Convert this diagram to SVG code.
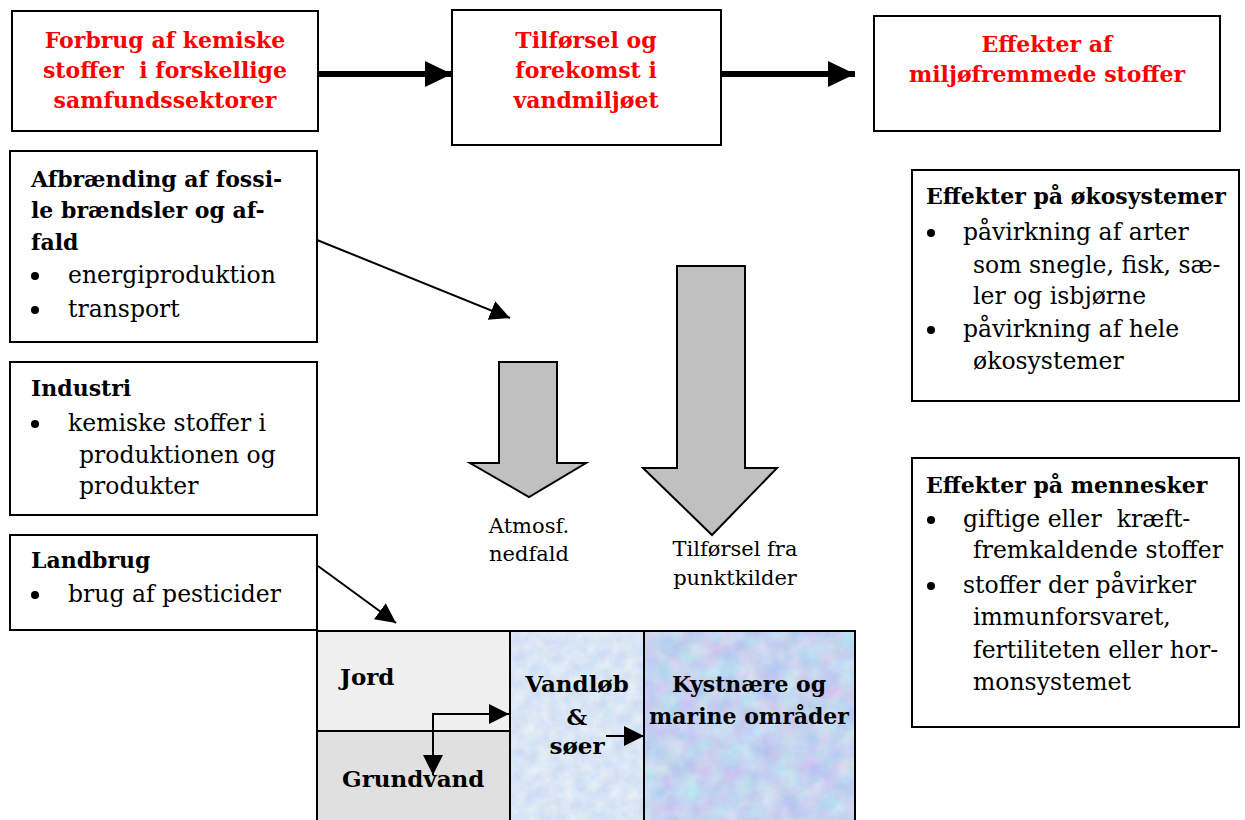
<svg xmlns="http://www.w3.org/2000/svg" width="1245" height="820" viewBox="0 0 1245 820">
<style>
.box{fill:#fff;stroke:#000;stroke-width:2}
.t{font-family:"DejaVu Serif","Liberation Serif",serif;font-size:23.5px;fill:#000}
.b{font-family:"DejaVu Serif","Liberation Serif",serif;font-size:22px;font-weight:bold;fill:#000}
.r{font-family:"DejaVu Serif","Liberation Serif",serif;font-size:22px;font-weight:bold;fill:#ff0000;text-anchor:middle}
.lbl{font-family:"DejaVu Serif","Liberation Serif",serif;font-size:21px;fill:#000;text-anchor:middle}
.w{font-family:"DejaVu Serif","Liberation Serif",serif;font-size:23px;font-weight:bold;fill:#000}
.k{font-size:22px}
.c{text-anchor:middle}
.pre{white-space:pre}
.thick{stroke:#000;stroke-width:6;fill:none}
.thin{stroke:#000;stroke-width:2;fill:none}
.blk{fill:#c0c0c0;stroke:#000;stroke-width:2}
</style>
<defs>
<marker id="bigHead" markerUnits="userSpaceOnUse" markerWidth="28" markerHeight="28" refX="27" refY="13" orient="auto" viewBox="0 0 28 28">
<path d="M0,0 L27,13 L0,26 z" fill="#000"/>
</marker>
<marker id="smallHead" markerUnits="userSpaceOnUse" markerWidth="22" markerHeight="22" refX="20" refY="10" orient="auto" viewBox="0 0 22 22">
<path d="M0,0 L20,10 L0,20 z" fill="#000"/>
</marker>
<filter id="texA" x="0" y="0" width="100%" height="100%" color-interpolation-filters="sRGB">
<feTurbulence type="fractalNoise" baseFrequency="0.08" numOctaves="4" seed="4"/>
<feColorMatrix type="matrix" values="0.16 0 0 0 0.77  0.1 0.04 0 0 0.83  0 0 0.06 0 0.93  0 0 0 0 1"/>
</filter>
<filter id="texB" x="0" y="0" width="100%" height="100%" color-interpolation-filters="sRGB">
<feTurbulence type="fractalNoise" baseFrequency="0.05" numOctaves="4" seed="9"/>
<feColorMatrix type="matrix" values="0.24 0 0 0 0.65  0 0.2 0 0 0.73  0 0 0.06 0 0.91  0 0 0 0 1"/>
</filter>
</defs>

<g id="top-forbrug">
<rect class="box" x="12" y="11" width="306" height="120"/>
<text class="r" x="165" y="48">Forbrug af kemiske</text>
<text class="r pre" x="165" y="78">stoffer  i forskellige</text>
<text class="r" x="165" y="108">samfundssektorer</text>
</g>
<g id="top-tilfoersel">
<rect class="box" x="452" y="10" width="269" height="135"/>
<text class="r" x="586" y="48">Tilførsel og</text>
<text class="r" x="586" y="78">forekomst i</text>
<text class="r" x="586" y="108">vandmiljøet</text>
</g>
<g id="top-effekter">
<rect class="box" x="874" y="16" width="346" height="115"/>
<text class="r" x="1047" y="52">Effekter af</text>
<text class="r" x="1047" y="82">miljøfremmede stoffer</text>
</g>

<g id="afbraending">
<rect class="box" x="10" y="151" width="307" height="191"/>
<text class="b" x="31" y="187">Afbrænding af fossi-</text>
<text class="b" x="31" y="218">le brændsler og af-</text>
<text class="b" x="31" y="250">fald</text>
<circle cx="35" cy="276" r="4"/>
<text class="t" x="68" y="283">energiproduktion</text>
<circle cx="35" cy="310" r="4"/>
<text class="t" x="68" y="317">transport</text>
</g>
<g id="industri">
<rect class="box" x="10" y="362" width="307" height="153"/>
<text class="b" x="31" y="396">Industri</text>
<circle cx="35" cy="424" r="4"/>
<text class="t" x="68" y="431">kemiske stoffer i</text>
<text class="t" x="79" y="463">produktionen og</text>
<text class="t" x="79" y="494">produkter</text>
</g>
<g id="landbrug">
<rect class="box" x="10" y="535" width="307" height="95"/>
<text class="b" x="31" y="568">Landbrug</text>
<circle cx="35" cy="595" r="4"/>
<text class="t" x="68" y="602">brug af pesticider</text>
</g>

<g id="oekosystemer">
<rect class="box" x="912" y="170" width="327" height="231"/>
<text class="b" x="926" y="204">Effekter på økosystemer</text>
<circle cx="931" cy="233" r="4"/>
<text class="t" x="963" y="240">påvirkning af arter</text>
<text class="t" x="973" y="273">som snegle, fisk, sæ-</text>
<text class="t" x="973" y="304">ler og isbjørne</text>
<circle cx="931" cy="330" r="4"/>
<text class="t" x="963" y="337">påvirkning af hele</text>
<text class="t" x="973" y="369">økosystemer</text>
</g>
<g id="mennesker">
<rect class="box" x="912" y="458" width="327" height="269"/>
<text class="b" x="926" y="493">Effekter på mennesker</text>
<circle cx="931" cy="520" r="4"/>
<text class="t pre" x="963" y="527">giftige eller  kræft-</text>
<text class="t" x="973" y="558">fremkaldende stoffer</text>
<circle cx="931" cy="586" r="4"/>
<text class="t" x="963" y="593">stoffer der påvirker</text>
<text class="t" x="973" y="625">immunforsvaret,</text>
<text class="t" x="973" y="658">fertiliteten eller hor-</text>
<text class="t" x="973" y="690">monsystemet</text>
</g>

<g id="atmosf">
<polygon class="blk" points="499,362 557,362 557,463 586,463 529,497 470,463 499,463"/>
<text class="lbl" x="529" y="533">Atmosf.</text>
<text class="lbl" x="529" y="561">nedfald</text>
</g>
<g id="punktkilder">
<polygon class="blk" points="677,266 745,266 745,468 777,468 712,535 643,468 677,468"/>
<text class="lbl" x="735" y="556">Tilførsel fra</text>
<text class="lbl" x="735" y="585">punktkilder</text>
</g>

<g id="jord">
<rect x="317" y="631" width="193" height="100" fill="#f0f0f0" stroke="#000" stroke-width="2"/>
<text class="w" x="340" y="685">Jord</text>
</g>
<g id="grundvand">
<rect x="317" y="731" width="193" height="92" fill="#e0e0e0" stroke="#000" stroke-width="2"/>
<text class="w" x="342" y="787">Grundvand</text>
</g>
<g id="vandloeb">
<rect x="510" y="631" width="134" height="192" fill="#dce8f8" filter="url(#texA)"/>
<rect x="510" y="631" width="134" height="192" fill="none" stroke="#000" stroke-width="2"/>
<text class="w c" x="577" y="692">Vandløb</text>
<text class="w c" x="577" y="725">&amp;</text>
<text class="w c" x="577" y="754">søer</text>
</g>
<g id="kystnaere">
<rect x="644" y="631" width="211" height="192" fill="#ccd4f0" filter="url(#texB)"/>
<rect x="644" y="631" width="211" height="192" fill="none" stroke="#000" stroke-width="2"/>
<text class="w k c" x="749" y="692">Kystnære og</text>
<text class="w k c" x="749" y="724">marine områder</text>
</g>

<g id="connectors">
<line class="thick" x1="318" y1="74" x2="452" y2="74" marker-end="url(#bigHead)"/>
<line class="thick" x1="721" y1="74" x2="855" y2="74" marker-end="url(#bigHead)"/>
<line class="thin" x1="317" y1="240" x2="510" y2="318" marker-end="url(#smallHead)"/>
<line class="thin" x1="318" y1="566" x2="396" y2="623" marker-end="url(#smallHead)"/>
<polyline class="thin" points="433,775 433,714 509,714" marker-end="url(#smallHead)"/>
<line class="thin" x1="433" y1="740" x2="433" y2="775" marker-end="url(#smallHead)"/>
<line class="thin" x1="606" y1="736" x2="644" y2="736" marker-end="url(#smallHead)"/>
</g>
</svg>
